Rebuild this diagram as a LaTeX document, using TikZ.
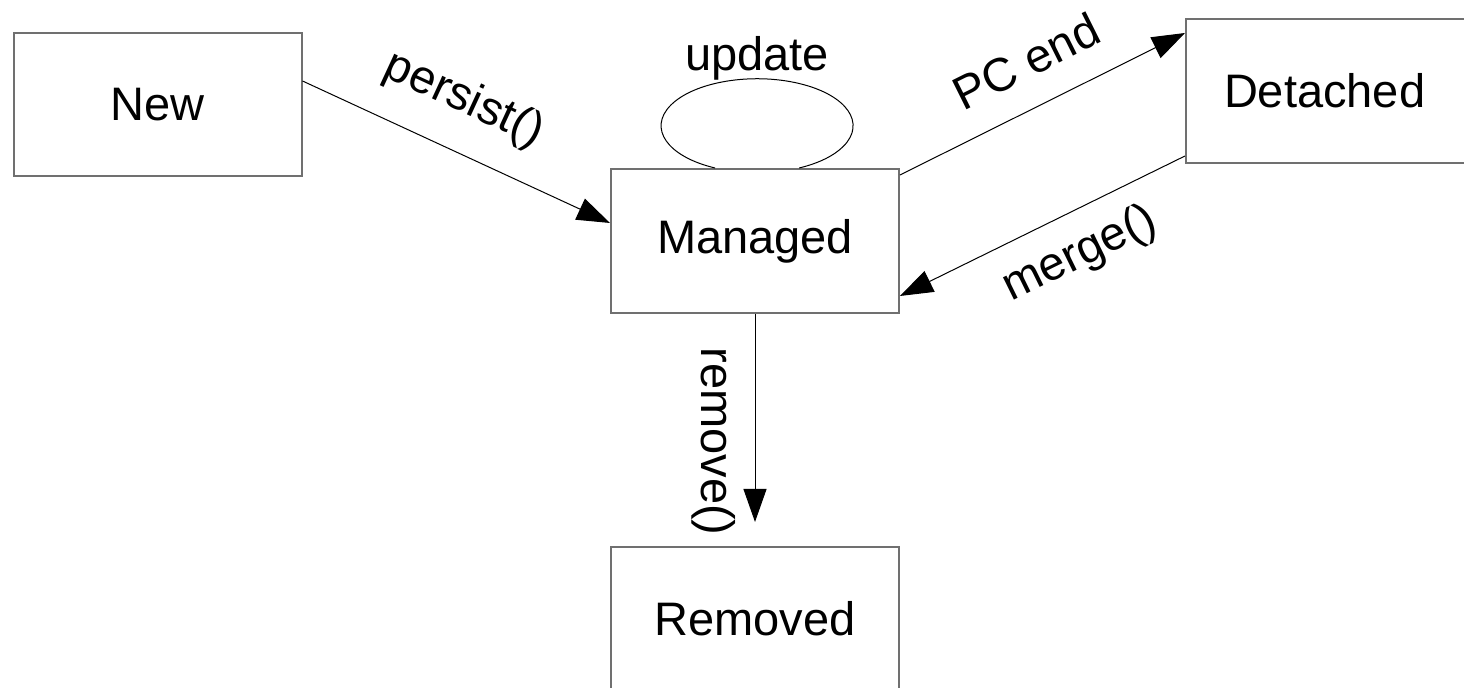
\documentclass[tikz,border=0pt]{standalone}
\usepackage{fontspec}
\setmainfont{Liberation Sans}
\usetikzlibrary{calc,arrows.meta}
\definecolor{BoxGray}{HTML}{707070}

\tikzset{
  state/.style={draw=BoxGray, line width=1pt, minimum width=144pt, minimum height=72pt},
  lbl/.style={inner sep=4pt},
  trans/.style={line width=0.5pt, -{Triangle[length=16.5pt,width=11.5pt]}}
}

\begin{document}
\begin{tikzpicture}[x=0.5pt,y=0.5pt,every node/.style={font=\fontsize{23.5}{28}\selectfont}]
            \useasboundingbox (0,0) rectangle (1464,688);
            \clip (0,0) rectangle (1464,688);

            \node[state, minimum height=71.5pt] (new) at (157.5,583.5) {New};
            \node[state] (managed) at (755,447) {Managed};
            \node[state, anchor=north west, text width=150pt, inner xsep=19pt, align=left] (detached) at (1185,670) {Detached};
            \node[state] (removed) at (755,69) {Removed};

            \draw[trans] ($(new.east)+(0,23.5)$) -- ($(managed.west)+(0,18)$)
                node[lbl, pos=0.456, sloped, above=10pt] {persist()};
            \draw[trans] ($(managed.north east)+(0,-7)$) -- ($(detached.north west)+(0,-15)$)
                node[lbl, pos=0.513, sloped, above=10pt] {PC end};
            \draw[trans] ($(detached.south west)+(0,8)$) -- ($(managed.south east)+(0,18)$)
                node[lbl, pos=0.434, sloped, below=6pt] {merge()};
            \draw[trans, shorten >=12] (managed.south) -- (removed.north)
                node[lbl, pos=0.55, sloped, below=5.5pt] {remove()};

            % self loop
            \draw[line width=0.5pt] ($(managed.north)+(-40,0)$) arc[start angle=244, end angle=-64, x radius=96, y radius=47];
            \node[inner sep=0pt, anchor=south] (update) at ($(managed.north)+(2,87)$) {update};
\end{tikzpicture}
\end{document}
